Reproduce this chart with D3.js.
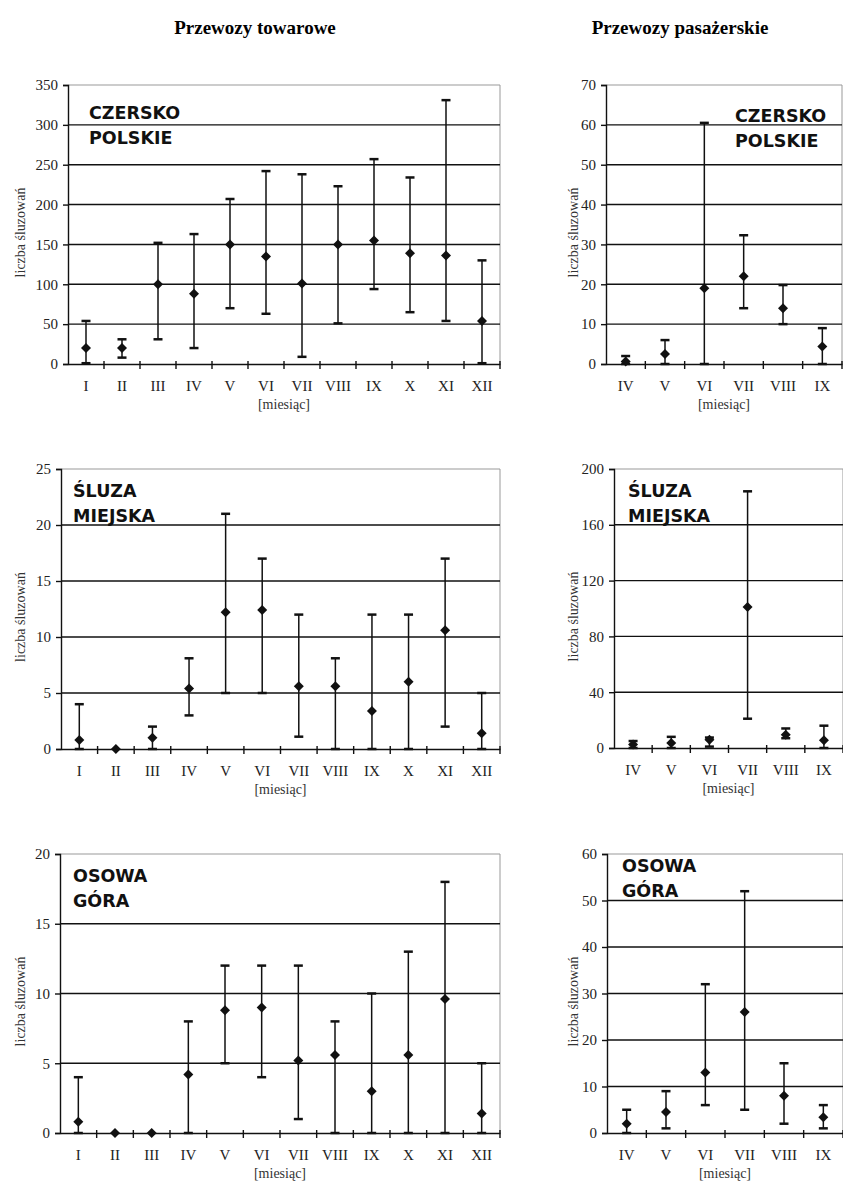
<!DOCTYPE html>
<html>

<head>
  <meta charset="utf-8">
  <title>Śluzowania</title>
  <style>
    body {
      margin: 0;
      background: white;
    }

    svg {
      display: block;
    }

    .title {
      font-family: "Liberation Serif", "Times New Roman", serif;
      font-weight: bold;
      font-size: 19px;
    }

    .tick text {
      font-family: "Liberation Serif", "Times New Roman", serif;
      fill: #222;
    }

    .lockName {
      font-family: "DejaVu Sans", Verdana, sans-serif;
      font-weight: bold;
      font-size: 17.5px;
      fill: #111;
    }

    .axisLabel {
      font-family: "Liberation Serif", "Times New Roman", serif;
      font-size: 14px;
      fill: #333;
    }
  </style>
</head>

<body>
  <svg id="chart"></svg>

  <script src="https://cdn.jsdelivr.net/npm/d3@7"></script>
  <script>
    // miesiące
    var monthsFreight = ["I", "II", "III", "IV", "V", "VI", "VII", "VIII", "IX", "X", "XI", "XII"];
    var monthsPassenger = ["IV", "V", "VI", "VII", "VIII", "IX"];

    // Czersko Polskie - towarowe
    var czerskoFreightMean = [20, 20, 100, 88, 150, 135, 101, 150, 155, 139, 136, 54];
    var czerskoFreightMin = [1, 8, 31, 20, 70, 63, 9, 51, 94, 65, 54, 1];
    var czerskoFreightMax = [54, 31, 152, 163, 207, 242, 238, 223, 257, 234, 331, 130];
    // Czersko Polskie - pasażerskie
    var czerskoPassMean = [0.6, 2.5, 19, 22, 14, 4.4];
    var czerskoPassMin = [0, 0, 0, 14, 10, 0];
    var czerskoPassMax = [2, 6, 60.5, 32.3, 19.8, 9];

    // Śluza Miejska - towarowe
    var miejskaFreightMean = [0.8, 0, 1, 5.4, 12.2, 12.4, 5.6, 5.6, 3.4, 6, 10.6, 1.4];
    var miejskaFreightMin = [0, 0, 0, 3, 5, 5, 1.1, 0, 0, 0, 2, 0];
    var miejskaFreightMax = [4, 0, 2, 8.1, 21, 17, 12, 8.1, 12, 12, 17, 5];
    // Śluza Miejska - pasażerskie
    var miejskaPassMean = [2.5, 3.5, 6, 101, 9.5, 5.5];
    var miejskaPassMin = [0, 0, 1, 21, 7, 0];
    var miejskaPassMax = [5, 8, 7.5, 184, 14, 16];

    // Osowa Góra - towarowe
    var osowaFreightMean = [0.8, 0, 0, 4.2, 8.8, 9, 5.2, 5.6, 3, 5.6, 9.6, 1.4];
    var osowaFreightMin = [0, 0, 0, 0, 5, 4, 1, 0, 0, 0, 0, 0];
    var osowaFreightMax = [4, 0, 0, 8, 12, 12, 12, 8, 10, 13, 18, 5];
    // Osowa Góra - pasażerskie
    var osowaPassMean = [2, 4.5, 13, 26, 8, 3.4];
    var osowaPassMin = [0, 1, 6, 5, 2, 1];
    var osowaPassMax = [5, 9, 32, 52, 15, 6];

    // osie Y
    var czerskoFreightTicks = [0, 50, 100, 150, 200, 250, 300, 350];
    var czerskoPassTicks = [0, 10, 20, 30, 40, 50, 60, 70];
    var miejskaFreightTicks = [0, 5, 10, 15, 20, 25];
    var miejskaPassTicks = [0, 40, 80, 120, 160, 200];
    var osowaFreightTicks = [0, 5, 10, 15, 20];
    var osowaPassTicks = [0, 10, 20, 30, 40, 50, 60];

    var columnTitles = ["Przewozy towarowe", "Przewozy pasażerskie"];
    var lockNames = [["CZERSKO", "POLSKIE"], ["ŚLUZA", "MIEJSKA"], ["OSOWA", "GÓRA"]];

    var width = 843, height = 1181;
    var svg = d3.select("#chart")
      .attr("width", width)
      .attr("height", height);

    // tytuły kolumn
    svg.append("text").attr("class", "title")
      .attr("x", 255).attr("y", 34)
      .attr("text-anchor", "middle")
      .text(columnTitles[0]);
    svg.append("text").attr("class", "title")
      .attr("x", 680).attr("y", 34)
      .attr("text-anchor", "middle")
      .text(columnTitles[1]);

    function zip(mean, min, max, months) {
      return months.map(function (m, i) {
        return { month: m, mean: mean[i], min: min[i], max: max[i] };
      });
    }

    var panels = [
      { box: [68, 500, 85, 364], months: monthsFreight, ticks: czerskoFreightTicks, data: zip(czerskoFreightMean, czerskoFreightMin, czerskoFreightMax, monthsFreight), name: lockNames[0], nameX: 89, nameY: 119, labelX: 20 },
      { box: [606, 842, 85, 364], months: monthsPassenger, ticks: czerskoPassTicks, data: zip(czerskoPassMean, czerskoPassMin, czerskoPassMax, monthsPassenger), name: lockNames[0], nameX: 735, nameY: 122, labelX: 573 },
      { box: [61, 500, 469, 749], months: monthsFreight, ticks: miejskaFreightTicks, data: zip(miejskaFreightMean, miejskaFreightMin, miejskaFreightMax, monthsFreight), name: lockNames[1], nameX: 73, nameY: 497, labelX: 20 },
      { box: [614, 843, 469, 748], months: monthsPassenger, ticks: miejskaPassTicks, data: zip(miejskaPassMean, miejskaPassMin, miejskaPassMax, monthsPassenger), name: lockNames[1], nameX: 628, nameY: 497, labelX: 573 },
      { box: [60, 500, 854, 1133], months: monthsFreight, ticks: osowaFreightTicks, data: zip(osowaFreightMean, osowaFreightMin, osowaFreightMax, monthsFreight), name: lockNames[2], nameX: 73, nameY: 882, labelX: 20 },
      { box: [607, 843, 854, 1133], months: monthsPassenger, ticks: osowaPassTicks, data: zip(osowaPassMean, osowaPassMin, osowaPassMax, monthsPassenger), name: lockNames[2], nameX: 622, nameY: 872, labelX: 573 }
    ];

    panels.forEach(drawPanel);

    function drawPanel(p) {
      var left = p.box[0], right = p.box[1], top = p.box[2], bottom = p.box[3];
      var g = svg.append("g");

      var x = d3.scaleBand()
        .domain(p.months)
        .range([left, right]);
      var y = d3.scaleLinear()
        .domain([0, d3.max(p.ticks)])
        .range([bottom, top]);

      // ramka (góra, prawo)
      g.append("path")
        .attr("d", "M" + left + "," + top + "H" + right + "V" + bottom)
        .attr("fill", "none")
        .attr("stroke", "#999")
        .attr("stroke-width", 1);

      // linie siatki
      g.append("g").selectAll("line")
        .data(p.ticks.filter(function (t) { return t > 0 && t < d3.max(p.ticks); }))
        .join("line")
        .attr("x1", left).attr("x2", right)
        .attr("y1", function (d) { return y(d); })
        .attr("y2", function (d) { return y(d); })
        .attr("stroke", "#111")
        .attr("stroke-width", 1.4);

      // oś Y
      var yAxis = d3.axisLeft(y).tickValues(p.ticks).tickSize(5).tickPadding(5);
      g.append("g")
        .attr("transform", "translate(" + left + ",0)")
        .call(yAxis)
        .call(function (s) {
          s.select(".domain").attr("stroke", "#111").attr("stroke-width", 1.4);
          s.selectAll(".tick line").attr("stroke", "#111").attr("stroke-width", 1.4);
          s.selectAll(".tick text").attr("font-size", 15);
        });

      // oś X
      var xAxis = d3.axisBottom(x).tickSize(0).tickPadding(16);
      g.append("g")
        .attr("transform", "translate(0," + bottom + ")")
        .call(xAxis)
        .call(function (s) {
          s.select(".domain").attr("stroke", "#111").attr("stroke-width", 1.4);
          s.selectAll(".tick text").attr("font-size", 15);
        });
      // kreski podziału między miesiącami
      g.append("g").selectAll("line")
        .data(p.months.slice(1).concat(["_end"]))
        .join("line")
        .attr("x1", function (d) { return d === "_end" ? right : x(d); })
        .attr("x2", function (d) { return d === "_end" ? right : x(d); })
        .attr("y1", bottom - 3)
        .attr("y2", bottom + 5)
        .attr("stroke", "#111")
        .attr("stroke-width", 1.4);

      // podpis osi X
      g.append("text")
        .attr("class", "axisLabel")
        .attr("x", (left + right) / 2)
        .attr("y", bottom + 45)
        .attr("text-anchor", "middle")
        .text("[miesiąc]");

      // podpis osi Y
      g.append("text")
        .attr("class", "axisLabel")
        .attr("transform", "translate(" + (p.labelX + 5) + "," + ((top + bottom) / 2 + 8) + ") rotate(-90)")
        .attr("text-anchor", "middle")
        .text("liczba śluzowań");

      // nazwa śluzy
      g.append("text")
        .attr("class", "lockName")
        .attr("x", p.nameX)
        .attr("y", p.nameY)
        .text(p.name[0]);
      g.append("text")
        .attr("class", "lockName")
        .attr("x", p.nameX)
        .attr("y", p.nameY + 25)
        .text(p.name[1]);

      // słupki błędów
      var cx = function (d) { return x(d.month) + x.bandwidth() / 2; };
      var bars = g.append("g").selectAll("g")
        .data(p.data.filter(function (d) { return d.max > d.min; }))
        .join("g");
      bars.append("line")
        .attr("x1", cx).attr("x2", cx)
        .attr("y1", function (d) { return y(d.min); })
        .attr("y2", function (d) { return y(d.max); })
        .attr("stroke", "#111")
        .attr("stroke-width", 1.5);
      bars.append("line")
        .attr("x1", function (d) { return cx(d) - 4.5; })
        .attr("x2", function (d) { return cx(d) + 4.5; })
        .attr("y1", function (d) { return y(d.max); })
        .attr("y2", function (d) { return y(d.max); })
        .attr("stroke", "#111")
        .attr("stroke-width", 2.5);
      bars.append("line")
        .attr("x1", function (d) { return cx(d) - 4.5; })
        .attr("x2", function (d) { return cx(d) + 4.5; })
        .attr("y1", function (d) { return y(d.min); })
        .attr("y2", function (d) { return y(d.min); })
        .attr("stroke", "#111")
        .attr("stroke-width", 2.5);

      // średnie (romby)
      g.append("g").selectAll("path")
        .data(p.data)
        .join("path")
        .attr("d", d3.symbol(d3.symbolSquare, 50))
        .attr("transform", function (d) { return "translate(" + cx(d) + "," + y(d.mean) + ") rotate(45)"; })
        .attr("fill", "#111");
    }
  </script>
</body>

</html>
